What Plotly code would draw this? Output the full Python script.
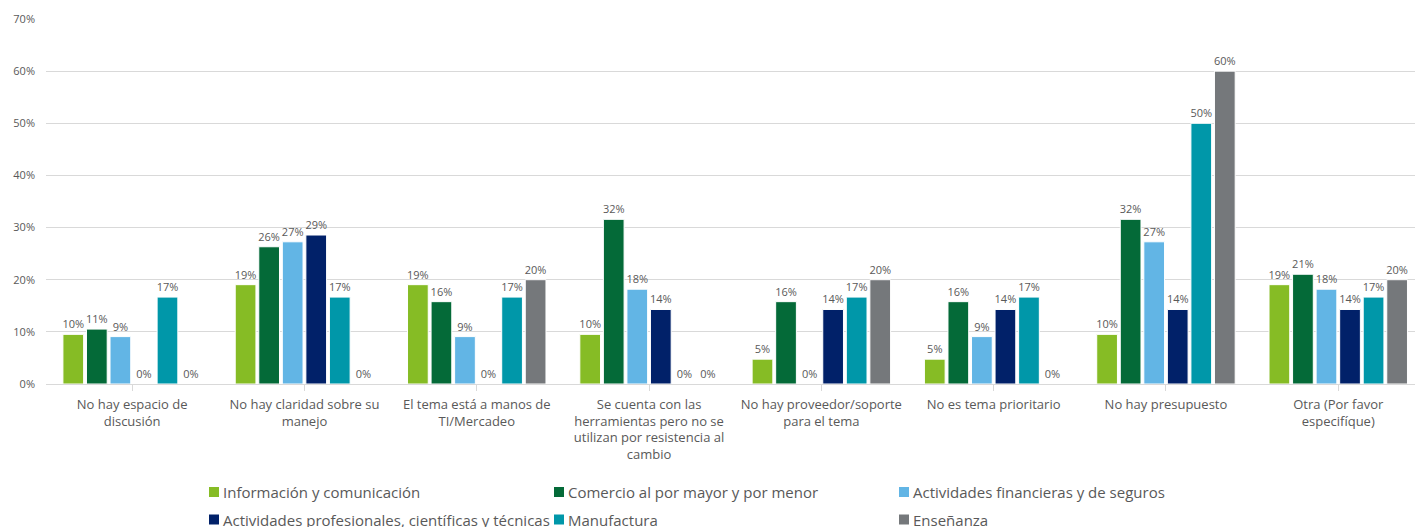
import plotly.graph_objects as go

# Motivos (categorías del eje X), con saltos de línea para el rótulo
categorias = [
    "No hay espacio de<br>discusión",
    "No hay claridad sobre su<br>manejo",
    "El tema está a manos de<br>TI/Mercadeo",
    "Se cuenta con las<br>herramientas pero no se<br>utilizan por resistencia al<br>cambio",
    "No hay proveedor/soporte<br>para el tema",
    "No es tema prioritario",
    "No hay presupuesto",
    "Otra (Por favor<br>especifíque)",
]

# Porcentaje de respuestas por sector
informacion = [0.0952, 0.1905, 0.1905, 0.0952, 0.0476, 0.0476, 0.0952, 0.1905]
comercio = [0.1053, 0.2632, 0.1579, 0.3158, 0.1579, 0.1579, 0.3158, 0.2105]
financieras = [0.0909, 0.2727, 0.0909, 0.1818, 0.0, 0.0909, 0.2727, 0.1818]
profesionales = [0.0, 0.2857, 0.0, 0.1429, 0.1429, 0.1429, 0.1429, 0.1429]
manufactura = [0.1667, 0.1667, 0.1667, 0.0, 0.1667, 0.1667, 0.50, 0.1667]
ensenanza = [0.0, 0.0, 0.20, 0.0, 0.20, 0.0, 0.60, 0.20]

sectores = [
    "Información y comunicación",
    "Comercio al por mayor y por menor",
    "Actividades financieras y de seguros",
    "Actividades profesionales, científicas y técnicas",
    "Manufactura",
    "Enseñanza",
]
valores = [informacion, comercio, financieras, profesionales, manufactura, ensenanza]
colores = ["#86BC25", "#046A38", "#62B5E5", "#012169", "#0097A9", "#75787B"]

ytick_vals = [0, 0.1, 0.2, 0.3, 0.4, 0.5, 0.6, 0.7]
ytick_text = ["0%", "10%", "20%", "30%", "40%", "50%", "60%", "70%"]

FONT = "Open Sans"
GRAY_TXT = "#595959"
GRID = "#d9d9d9"

W, H = 1415, 527
ML, MT, MB = 46, 19, 143
PLOT_W = W - ML
PLOT_H = H - MT - MB
CAT_W = 172.3  # ancho de cada categoría en píxeles


def px_to_paper_x(px):
    return (px - ML) / PLOT_W


def px_to_paper_y(py):
    return (H - MB - py) / PLOT_H


fig = go.Figure()
for name, vals, color in zip(sectores, valores, colores):
    fig.add_trace(go.Bar(
        name=name,
        x=list(range(len(categorias))),
        y=vals,
        marker=dict(color=color, line=dict(color="white", width=1)),
        texttemplate="%{y:.0%}",
        textposition="outside",
        textfont=dict(family=FONT, size=11, color=GRAY_TXT),
        constraintext="none",
        cliponaxis=False,
        showlegend=False,
    ))

# Leyenda en tres columnas y dos filas, debajo del gráfico
legend_cols = [209, 554, 899]
legend_rows = [492, 519.5]
SQ = 10
shapes = []
annotations = []
for i, (name, color) in enumerate(zip(sectores, colores)):
    cx = legend_cols[i % 3]
    cy = legend_rows[i // 3]
    shapes.append(dict(
        type="rect", xref="paper", yref="paper",
        x0=px_to_paper_x(cx), x1=px_to_paper_x(cx + SQ),
        y0=px_to_paper_y(cy + SQ / 2), y1=px_to_paper_y(cy - SQ / 2),
        fillcolor=color, line=dict(width=0),
    ))
    annotations.append(dict(
        text=name, xref="paper", yref="paper",
        x=px_to_paper_x(cx + SQ + 2), y=px_to_paper_y(cy),
        xanchor="left", yanchor="middle", showarrow=False,
        font=dict(family=FONT, size=15, color=GRAY_TXT),
    ))

fig.update_layout(
    width=W,
    height=H,
    margin=dict(l=ML, r=0, t=MT, b=MB, autoexpand=False),
    paper_bgcolor="white",
    plot_bgcolor="white",
    barmode="group",
    bargap=0.18,
    bargroupgap=0.12,
    font=dict(family=FONT, color=GRAY_TXT),
    showlegend=False,
    shapes=shapes,
    annotations=annotations,
    xaxis=dict(
        tickmode="array",
        tickvals=list(range(len(categorias))),
        ticktext=categorias,
        range=[-0.5, -0.5 + PLOT_W / CAT_W],
        tickson="boundaries",
        ticks="outside",
        ticklen=6,
        tickcolor=GRID,
        showline=True,
        linecolor=GRID,
        linewidth=1,
        showgrid=False,
        tickfont=dict(family=FONT, size=13, color=GRAY_TXT),
        ticklabelstandoff=2,
        tickangle=0,
    ),
    yaxis=dict(
        range=[0, 0.7],
        tickmode="array",
        tickvals=ytick_vals,
        ticktext=ytick_text,
        showgrid=True,
        gridcolor=GRID,
        gridwidth=1,
        zeroline=False,
        showline=False,
        tickfont=dict(family=FONT, size=11, color=GRAY_TXT),
        ticklabelstandoff=10,
    ),
)

fig.write_html("out.html")
